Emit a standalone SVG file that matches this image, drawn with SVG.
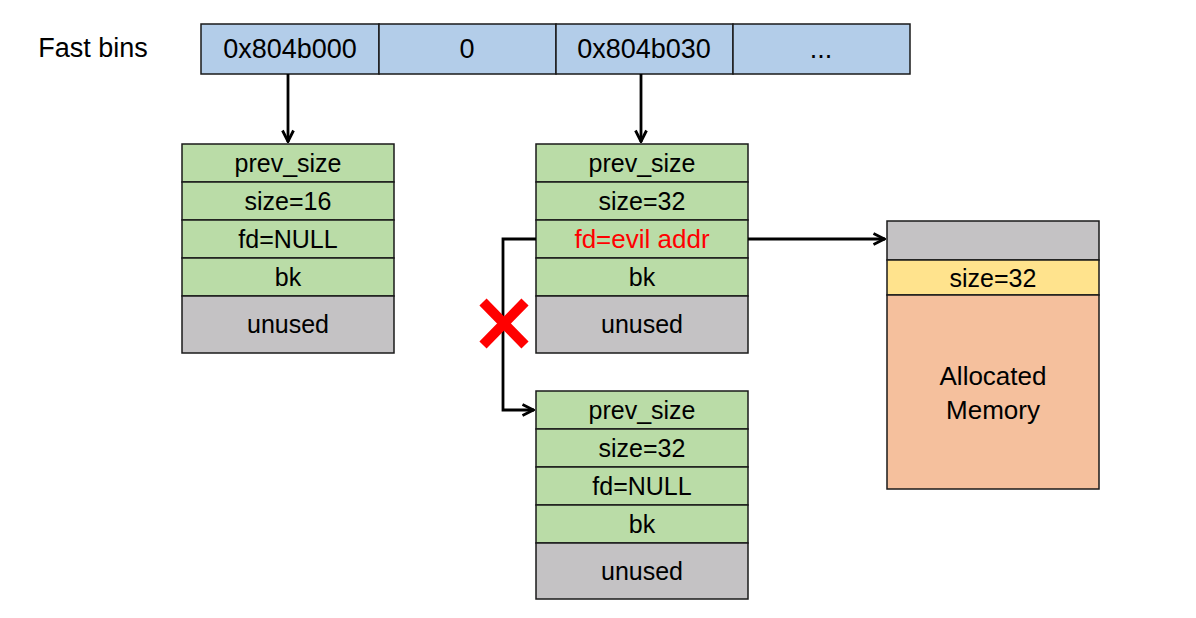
<svg xmlns="http://www.w3.org/2000/svg" width="1196" height="618" viewBox="0 0 1196 618">
<defs>
<style>
text{font-family:"Liberation Sans",Arial,sans-serif;font-size:25px;fill:#000;text-anchor:middle;dominant-baseline:central}
.h{font-size:27px}
.f{font-size:26px}
.b{fill:#b3cde9;stroke:#1a1a1a;stroke-width:1.5}
.g{fill:#badca7;stroke:#1a1a1a;stroke-width:1.5}
.u{fill:#c4c2c4;stroke:#1a1a1a;stroke-width:1.5}
.y{fill:#ffe38d;stroke:#1a1a1a;stroke-width:1.5}
.o{fill:#f5c09d;stroke:#1a1a1a;stroke-width:1.5}
.c{fill:none;stroke:#000;stroke-width:2.8}
</style>
<marker id="ah" viewBox="0 0 14 14" refX="13" refY="7" markerWidth="14" markerHeight="14" markerUnits="userSpaceOnUse" orient="auto">
<path d="M1.5,1.5 L12.5,7 L1.5,12.5" fill="none" stroke="#000" stroke-width="2.8"/>
</marker>
</defs>
<rect width="1196" height="618" fill="#fff"/>
<text class="h" x="93" y="48">Fast bins</text>
<g id="fastbins">
<rect class="b" x="201" y="24" width="178" height="50"/>
<rect class="b" x="379" y="24" width="177" height="50"/>
<rect class="b" x="556" y="24" width="177" height="50"/>
<rect class="b" x="733" y="24" width="177" height="50"/>
<text class="h" x="290" y="49">0x804b000</text>
<text class="h" x="467" y="49">0</text>
<text class="h" x="644" y="49">0x804b030</text>
<text class="h" x="821" y="49">...</text>
</g>
<g id="chunk1">
<rect class="g" x="182" y="144" width="212" height="38"/>
<rect class="g" x="182" y="182" width="212" height="38"/>
<rect class="g" x="182" y="220" width="212" height="38"/>
<rect class="g" x="182" y="258" width="212" height="38"/>
<rect class="u" x="182" y="296" width="212" height="57"/>
<text x="288" y="163">prev_size</text>
<text x="288" y="201">size=16</text>
<text x="288" y="239">fd=NULL</text>
<text x="288" y="277">bk</text>
<text x="288" y="324">unused</text>
</g>
<g id="chunk2">
<rect class="g" x="536" y="144" width="212" height="38"/>
<rect class="g" x="536" y="182" width="212" height="38"/>
<rect class="g" x="536" y="220" width="212" height="38"/>
<rect class="g" x="536" y="258" width="212" height="38"/>
<rect class="u" x="536" y="296" width="212" height="57"/>
<text x="642" y="163">prev_size</text>
<text x="642" y="201">size=32</text>
<text class="f" x="642" y="239" style="fill:#ff0000">fd=evil addr</text>
<text x="642" y="277">bk</text>
<text x="642" y="324">unused</text>
</g>
<g id="chunk3">
<rect class="g" x="536" y="391" width="212" height="38"/>
<rect class="g" x="536" y="429" width="212" height="38"/>
<rect class="g" x="536" y="467" width="212" height="38"/>
<rect class="g" x="536" y="505" width="212" height="38"/>
<rect class="u" x="536" y="543" width="212" height="56"/>
<text x="642" y="410">prev_size</text>
<text x="642" y="448">size=32</text>
<text x="642" y="486">fd=NULL</text>
<text x="642" y="524">bk</text>
<text x="642" y="571">unused</text>
</g>
<g id="evil">
<rect class="u" x="887" y="221" width="212" height="39"/>
<rect class="y" x="887" y="260" width="212" height="35"/>
<rect class="o" x="887" y="295" width="212" height="194"/>
<text x="993" y="278">size=32</text>
<text class="f" x="993" y="376">Allocated</text>
<text class="f" x="993" y="410">Memory</text>
</g>
<g id="connectors">
<path class="c" d="M288,74 V142" marker-end="url(#ah)"/>
<path class="c" d="M641,74 V142" marker-end="url(#ah)"/>
<path class="c" d="M748,239 H885" marker-end="url(#ah)"/>
<path class="c" d="M536,239 H503 V410 H534" marker-end="url(#ah)"/>
</g>
<g id="cross">
<path d="M483,302 L525,345 M525,302 L483,345" stroke="#ff0000" stroke-width="10" fill="none"/>
</g>
</svg>
